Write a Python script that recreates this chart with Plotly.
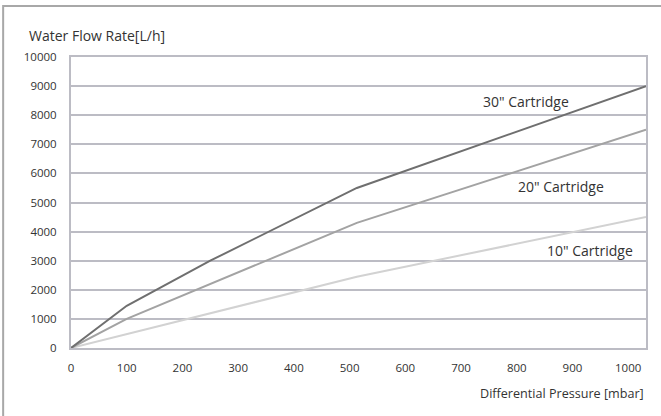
import plotly.graph_objects as go

# Data
x_30 = [0, 100, 250, 513, 1032]
y_30 = [0, 1450, 3000, 5500, 9000]
x_20 = [0, 100, 513, 1032]
y_20 = [0, 1000, 4300, 7500]
x_10 = [0, 513, 1032]
y_10 = [0, 2450, 4500]
x_ticks = [0, 100, 200, 300, 400, 500, 600, 700, 800, 900, 1000]
y_ticks = [0, 1000, 2000, 3000, 4000, 5000, 6000, 7000, 8000, 9000, 10000]
y_tick_labels = [str(v) for v in y_ticks]
series_names = ['30" Cartridge', '20" Cartridge', '10" Cartridge']

FONT = "Open Sans"
TXT = "#333333"

fig = go.Figure()
fig.add_trace(go.Scatter(x=x_10, y=y_10, mode="lines", name=series_names[2],
                         line=dict(color="#d2d2d2", width=2)))
fig.add_trace(go.Scatter(x=x_20, y=y_20, mode="lines", name=series_names[1],
                         line=dict(color="#a3a3a3", width=2)))
fig.add_trace(go.Scatter(x=x_30, y=y_30, mode="lines", name=series_names[0],
                         line=dict(color="#6f6f6f", width=2)))

fig.update_layout(
    width=661, height=416,
    margin=dict(l=71, r=15, t=57, b=68),
    paper_bgcolor="white", plot_bgcolor="white",
    showlegend=False,
    font=dict(family=FONT, size=11.5, color=TXT),
)
fig.update_xaxes(range=[0, 1032], tickvals=x_ticks, showgrid=False, zeroline=False,
                 showline=True, linecolor="#bcbcc4", linewidth=2, mirror=True,
                 ticks="", ticklabelstandoff=8, tickfont=dict(size=11.5, color=TXT))
fig.update_yaxes(range=[0, 10000], tickvals=y_ticks, ticktext=y_tick_labels,
                 showgrid=True, gridcolor="#bcbcc4",
                 gridwidth=1.5, zeroline=False, showline=True, linecolor="#bcbcc4",
                 linewidth=2, mirror=True, ticks="", ticklabelstandoff=10,
                 tickfont=dict(size=11.5, color=TXT))

# outer frame
fig.add_shape(type="rect", xref="paper", yref="paper", x0=-0.118, x1=1.2, y0=-0.35, y1=1.175,
              line=dict(color="#a8a8a8", width=2), layer="below")

fig.add_annotation(text="Water Flow Rate[L/h]", xref="paper", yref="paper",
                   x=-0.0765, y=1.0756, xanchor="left", yanchor="middle", showarrow=False,
                   font=dict(size=14, color=TXT))
fig.add_annotation(text="Differential Pressure [mbar]", xref="paper", yref="paper",
                   x=1, y=-0.158, xanchor="right", yanchor="middle", showarrow=False,
                   font=dict(size=12.6, color=TXT))

label_pos = [(898, 8464), (960, 5543), (1013, 3344)]
for name, (lx, ly) in zip(series_names, label_pos):
    fig.add_annotation(text=name, x=lx, y=ly, xanchor="right", yanchor="middle",
                       showarrow=False, font=dict(size=14, color=TXT))

fig.write_html("out.html", config={"displayModeBar": False},
               post_script="document.body.style.margin='0';document.body.style.padding='0';")
